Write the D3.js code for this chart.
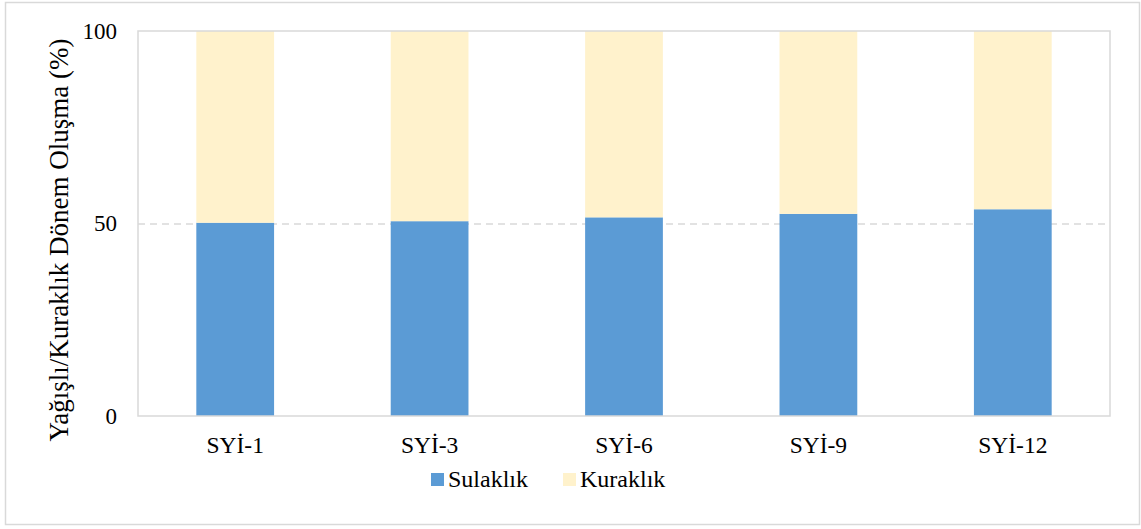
<!DOCTYPE html>
<html>
<head>
<meta charset="utf-8">
<script src="https://cdn.jsdelivr.net/npm/d3@7"></script>
<style>
  body { margin: 0; background: #fff; }
</style>
</head>
<body>
<div id="chart"></div>
<script>
var categories = ["SYİ-1", "SYİ-3", "SYİ-6", "SYİ-9", "SYİ-12"];
var sulaklik = [50.2, 50.6, 51.6, 52.5, 53.7];
var kuraklik = sulaklik.map(function (v) { return 100 - v; });
var yTicks = [0, 50, 100];
var seriesNames = ["Sulaklık", "Kuraklık"];
var seriesColors = ["#5B9BD5", "#FFF2CC"];

var serif = "'Liberation Serif', 'Times New Roman', serif";
var W = 1141, H = 529;
var margin = { left: 138, top: 31, right: 31, bottom: 113 };
var width = W - margin.left - margin.right,
    height = H - margin.top - margin.bottom;

var svg = d3.select("#chart").append("svg")
    .attr("width", W)
    .attr("height", H);

// outer chart frame
svg.append("rect")
    .attr("x", 5.5).attr("y", 2.5)
    .attr("width", 1134).attr("height", 522)
    .attr("fill", "#fff")
    .attr("stroke", "#d9d9d9")
    .attr("stroke-width", 1.5);

var g = svg.append("g")
    .attr("transform", "translate(" + margin.left + "," + margin.top + ")");

var x = d3.scaleBand()
    .domain(categories)
    .range([0, width])
    .paddingInner(0.6)
    .paddingOuter(0.3);

var y = d3.scaleLinear()
    .domain([0, 100])
    .range([height, 0]);

// gridline at 50
g.selectAll(".grid")
    .data(yTicks.filter(function (d) { return d > 0 && d < 100; }))
    .enter().append("line")
    .attr("x1", 0).attr("x2", width)
    .attr("y1", function (d) { return y(d) + 0.5; })
    .attr("y2", function (d) { return y(d) + 0.5; })
    .attr("stroke", "#d9d9d9")
    .attr("stroke-width", 1.5)
    .attr("stroke-dasharray", "7,5");

var stackData = categories.map(function (c, i) {
    return { cat: c, s: sulaklik[i], k: kuraklik[i] };
});
var stack = d3.stack().keys(["s", "k"])(stackData);

g.selectAll(".series")
    .data(stack)
    .enter().append("g")
    .attr("fill", function (d, i) { return seriesColors[i]; })
    .selectAll("rect")
    .data(function (d) { return d; })
    .enter().append("rect")
    .attr("x", function (d) { return x(d.data.cat); })
    .attr("width", x.bandwidth())
    .attr("y", function (d) { return y(d[1]); })
    .attr("height", function (d) { return y(d[0]) - y(d[1]); });

// plot area border
g.append("rect")
    .attr("x", 0).attr("y", 0)
    .attr("width", width).attr("height", height)
    .attr("fill", "none")
    .attr("stroke", "#d9d9d9")
    .attr("stroke-width", 1.5);

// y axis
var yAxis = g.append("g")
    .call(d3.axisLeft(y).tickValues(yTicks).tickSize(0).tickPadding(21));
yAxis.select(".domain").remove();
yAxis.selectAll("text")
    .style("font-family", serif)
    .style("font-size", "23px")
    .attr("fill", "#000");

// x axis
var xAxis = g.append("g")
    .attr("transform", "translate(0," + height + ")")
    .call(d3.axisBottom(x).tickSize(0).tickPadding(20));
xAxis.select(".domain").remove();
xAxis.selectAll("text")
    .style("font-family", serif)
    .style("font-size", "23.5px")
    .attr("fill", "#000");

// y title
svg.append("text")
    .attr("transform", "translate(68,240) rotate(-90)")
    .attr("text-anchor", "middle")
    .style("font-family", serif)
    .style("font-size", "27px")
    .attr("fill", "#000")
    .text("Yağışlı/Kuraklık Dönem Oluşma (%)");

// legend
var legendX = [431, 563];
var legend = svg.selectAll(".legend")
    .data(seriesNames)
    .enter().append("g")
    .attr("transform", function (d, i) { return "translate(" + legendX[i] + ",473)"; });
legend.append("rect")
    .attr("width", 13).attr("height", 13)
    .attr("fill", function (d, i) { return seriesColors[i]; });
legend.append("text")
    .attr("x", 17).attr("y", 14)
    .style("font-family", serif)
    .style("font-size", "24px")
    .attr("fill", "#000")
    .text(function (d) { return d; });
</script>
</body>
</html>
